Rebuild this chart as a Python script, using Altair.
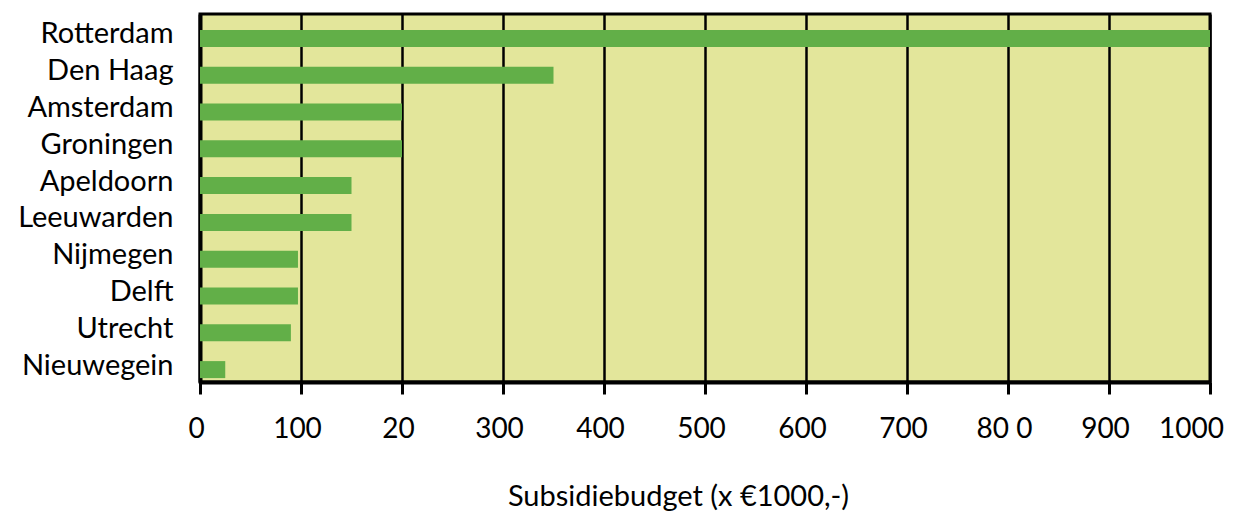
import altair as alt
import pandas as pd

cities = ["Rotterdam", "Den Haag", "Amsterdam", "Groningen", "Apeldoorn",
          "Leeuwarden", "Nijmegen", "Delft", "Utrecht", "Nieuwegein"]
budget = [1000, 350, 200, 200, 150, 150, 97, 97, 90, 25]
tick_values = [0, 100, 200, 300, 400, 500, 600, 700, 800, 900, 1000]
tick_labels = ["0", "100", "20", "300", "400", "500", "600", "700", "80 0", "900", "1000"]
x_title = "Subsidiebudget (x €1000,-)"

df = pd.DataFrame({"stad": cities, "budget": budget})

label_arr = "[" + ",".join("'" + t + "'" for t in tick_labels) + "]"

FONT = "Lato"

chart = alt.Chart(df).mark_bar(color="#62AF48", size=17, yOffset=6).encode(
    x=alt.X("budget:Q",
            scale=alt.Scale(domain=[0, 1000], nice=False, zero=True, clamp=True),
            axis=alt.Axis(values=tick_values, title=x_title,
                          labelExpr=label_arr + "[round(datum.value/100)]",
                          grid=True, gridColor="black", gridWidth=2.5, gridOpacity=1,
                          domainColor="black", domainWidth=4,
                          tickColor="black", tickWidth=3, tickSize=12,
                          labelFont=FONT, labelFontSize=28, labelColor="black",
                          labelPadding=21,
                          labelOffset={"condition": {"test": "datum.value == 1000", "value": -19},
                                       "value": -4},
                          labelFlush=False,
                          titleFont=FONT, titleFontSize=29, titleFontWeight="normal",
                          titleColor="black", titleX=478, titleY=123,
                          titleAlign="center", titleBaseline="alphabetic")),
    y=alt.Y("stad:N", sort=cities,
            scale=alt.Scale(paddingInner=0.5, paddingOuter=0.25),
            axis=alt.Axis(title=None, ticks=False, grid=False,
                          domainColor="black", domainWidth=4,
                          labelFont=FONT, labelFontSize=29, labelColor="black",
                          labelPadding=27, labelOffset=2)),
).properties(
    width=1010, height=368,
    padding={"left": 192, "top": 6, "right": 16, "bottom": 140},
    autosize="none",
).configure_view(
    fill="#E3E69B", stroke="black", strokeWidth=3
)

chart.save("out.html", embed_options={"renderer": "svg", "actions": False})
